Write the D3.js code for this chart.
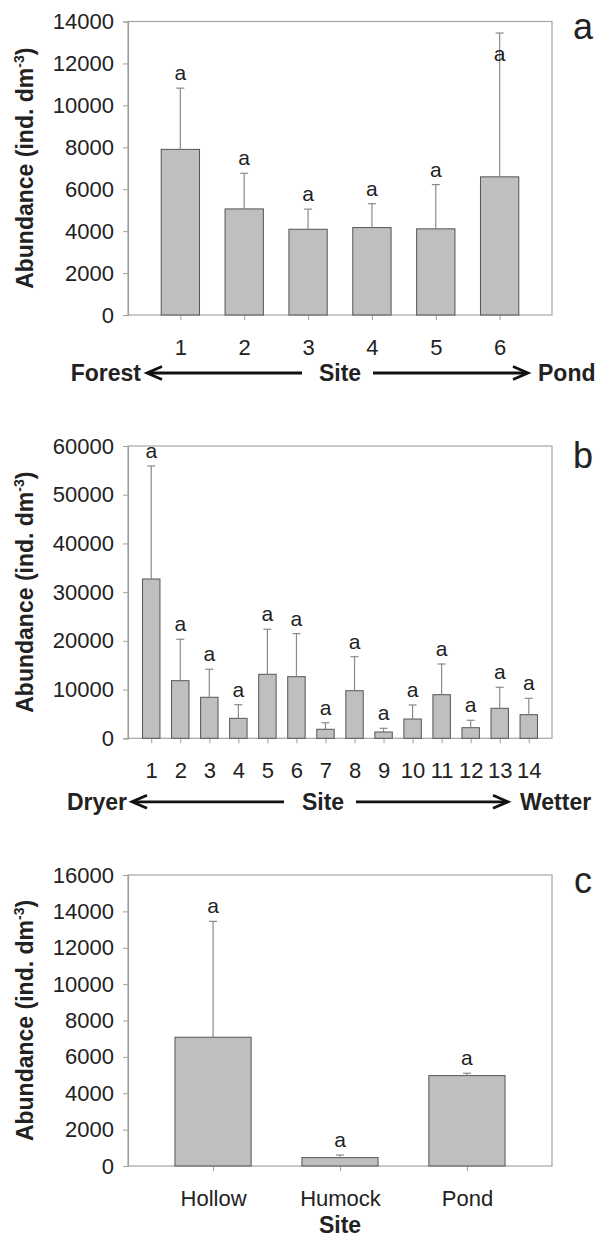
<!DOCTYPE html>
<html>
<head>
<meta charset="utf-8">
<script src="https://cdn.jsdelivr.net/npm/d3@7"></script>
<style>
  body { margin: 0; background: #fff; }
  svg { display: block; }
</style>
</head>
<body>
<div id="chart"></div>
<script>
// panel a: sites along forest -> pond
var sitesA = ['1', '2', '3', '4', '5', '6'];
var meanA = [7900, 5060, 4090, 4170, 4110, 6590];
var errA = [10820, 6760, 5050, 5310, 6220, 13450];
var lettersA = ['a', 'a', 'a', 'a', 'a', 'a'];
var letterAtA = [null, null, null, null, null, 12400];
var ticksA = [0, 2000, 4000, 6000, 8000, 10000, 12000, 14000];

// panel b: sites along dryer -> wetter
var sitesB = ['1', '2', '3', '4', '5', '6', '7', '8', '9', '10', '11', '12', '13', '14'];
var meanB = [32700, 11830, 8420, 4100, 13140, 12650, 1850, 9770, 1290, 3960, 8950, 2180, 6160, 4850];
var errB = [55900, 20330, 14170, 6900, 22380, 21480, 3200, 16750, 2050, 6840, 15250, 3700, 10470, 8210];
var lettersB = ['a', 'a', 'a', 'a', 'a', 'a', 'a', 'a', 'a', 'a', 'a', 'a', 'a', 'a'];
var ticksB = [0, 10000, 20000, 30000, 40000, 50000, 60000];

// panel c: microhabitats
var sitesC = ['Hollow', 'Humock', 'Pond'];
var meanC = [7080, 460, 4970];
var errC = [13450, 605, 5100];
var lettersC = ['a', 'a', 'a'];
var ticksC = [0, 2000, 4000, 6000, 8000, 10000, 12000, 14000, 16000];

var font = 'Liberation Sans, Arial, Helvetica, sans-serif';
var width = 603;
var height = 1237;

var svg = d3.select('#chart')
    .append('svg')
    .attr('width', width)
    .attr('height', height)
    .attr('viewBox', [0, 0, width, height])
    .style('font-family', font);

function arrow(g, x1, x2, yy) {
    // shaft plus open arrow head at x2
    var dir = x2 > x1 ? 1 : -1;
    g.append('line')
        .attr('x1', x1).attr('x2', x2 - dir * 2)
        .attr('y1', yy).attr('y2', yy)
        .attr('stroke', '#111')
        .attr('stroke-width', 2.8);
    g.append('path')
        .attr('d', `M${x2 - dir * 15},${yy - 6.5}L${x2},${yy}L${x2 - dir * 15},${yy + 6.5}`)
        .attr('fill', 'none')
        .attr('stroke', '#111')
        .attr('stroke-width', 2.8)
        .attr('stroke-linejoin', 'miter');
}

function panel(o) {
    var x = d3.scalePoint()
        .domain(o.sites)
        .range([o.left, o.right])
        .padding(o.pad);
    var y = d3.scaleLinear()
        .domain([0, o.max])
        .range([o.bottom, o.top]);
    var bw = x.step() * 0.6;

    var g = svg.append('g');

    // frame
    g.append('rect')
        .attr('x', o.left)
        .attr('y', o.top)
        .attr('width', o.right - o.left)
        .attr('height', o.bottom - o.top)
        .attr('fill', 'none')
        .attr('stroke', '#a6a6a6')
        .attr('stroke-width', 1.2);

    var yAxis = g => g
        .attr('transform', `translate(${o.left},0)`)
        .call(d3.axisLeft(y).tickValues(o.ticks).tickSize(5).tickPadding(9).tickFormat(d3.format('d')))
        .call(g => g.select('.domain').attr('stroke', '#a0a0a0').attr('stroke-width', 1.2))
        .call(g => g.selectAll('.tick line').attr('stroke', '#a0a0a0'))
        .call(g => g.selectAll('text')
            .attr('font-family', font)
            .attr('font-size', 22)
            .attr('fill', '#222'));

    var xAxis = g => g
        .attr('transform', `translate(0,${o.bottom})`)
        .call(d3.axisBottom(x).tickSize(5).tickPadding(19).tickSizeOuter(0))
        .call(g => g.select('.domain').remove())
        .call(g => g.selectAll('.tick line').attr('stroke', '#a0a0a0'))
        .call(g => g.selectAll('text')
            .attr('font-family', font)
            .attr('font-size', 22)
            .attr('fill', '#222'));

    g.append('g').call(xAxis);
    g.append('g').call(yAxis);

    // bars
    g.append('g')
        .selectAll('rect')
        .data(o.sites)
        .join('rect')
        .attr('x', (d) => x(d) - bw / 2)
        .attr('y', (d, i) => y(o.mean[i]))
        .attr('width', bw)
        .attr('height', (d, i) => y(0) - y(o.mean[i]))
        .attr('fill', '#bfbfbf')
        .attr('stroke', '#555')
        .attr('stroke-width', 1);

    // error bars (upper only)
    var eb = g.append('g')
        .attr('stroke', '#8a8a8a')
        .attr('stroke-width', 1.2);
    eb.selectAll('line.v')
        .data(o.sites)
        .join('line')
        .attr('class', 'v')
        .attr('x1', (d) => x(d))
        .attr('x2', (d) => x(d))
        .attr('y1', (d, i) => y(o.mean[i]))
        .attr('y2', (d, i) => y(o.err[i]));
    eb.selectAll('line.c')
        .data(o.sites)
        .join('line')
        .attr('class', 'c')
        .attr('x1', (d) => x(d) - 4)
        .attr('x2', (d) => x(d) + 4)
        .attr('y1', (d, i) => y(o.err[i]))
        .attr('y2', (d, i) => y(o.err[i]));

    // significance letters
    g.append('g')
        .selectAll('text')
        .data(o.sites)
        .join('text')
        .attr('x', (d) => x(d))
        .attr('y', (d, i) => o.letterAt && o.letterAt[i] != null ?
            y(o.letterAt[i]) + 6 : y(o.err[i]) - 8)
        .attr('text-anchor', 'middle')
        .attr('font-size', 21)
        .attr('fill', '#222')
        .text((d, i) => o.letters[i]);

    // panel letter
    g.append('text')
        .attr('x', 583)
        .attr('y', o.top + o.tagDy)
        .attr('text-anchor', 'middle')
        .attr('font-size', 36)
        .attr('fill', '#222')
        .text(o.tag);

    // y title
    var t = g.append('text')
        .attr('transform', `translate(33,${(o.top + o.bottom) / 2}) rotate(-90)`)
        .attr('text-anchor', 'middle')
        .attr('font-size', 23)
        .attr('font-weight', 'bold')
        .attr('fill', '#222');
    t.append('tspan').text('Abundance (ind. dm');
    t.append('tspan').attr('dy', -9).attr('font-size', 14).text('-3');
    t.append('tspan').attr('dy', 9).text(')');

    // x title
    var xt = g.append('g')
        .attr('font-size', 23)
        .attr('font-weight', 'bold')
        .attr('fill', '#222');
    var ty = o.bottom + o.titleDy;
    xt.append('text')
        .attr('x', o.siteX)
        .attr('y', ty + 8)
        .attr('text-anchor', 'middle')
        .text('Site');
    if (o.ends) {
        xt.append('text')
            .attr('x', o.ends[0].x)
            .attr('y', ty + 8)
            .attr('text-anchor', 'end')
            .text(o.ends[0].label);
        xt.append('text')
            .attr('x', o.ends[1].x)
            .attr('y', ty + 8)
            .attr('text-anchor', 'start')
            .text(o.ends[1].label);
        arrow(g, o.arrows[0][0], o.arrows[0][1], ty);
        arrow(g, o.arrows[1][0], o.arrows[1][1], ty);
    }
}

panel({
    sites: sitesA, mean: meanA, err: errA, letters: lettersA, letterAt: letterAtA,
    ticks: ticksA, max: 14000,
    left: 128, right: 552, top: 21.5, bottom: 315, pad: 0.82,
    tag: 'a', tagDy: 17,
    titleDy: 58, siteX: 340,
    ends: [{ label: 'Forest', x: 141 }, { label: 'Pond', x: 538 }],
    arrows: [[302, 147], [373, 528]]
});

panel({
    sites: sitesB, mean: meanB, err: errB, letters: lettersB,
    ticks: ticksB, max: 60000,
    left: 128, right: 552, top: 446, bottom: 738.3, pad: 0.8,
    tag: 'b', tagDy: 22,
    titleDy: 63.5, siteX: 323,
    ends: [{ label: 'Dryer', x: 127 }, { label: 'Wetter', x: 520 }],
    arrows: [[284, 132], [356, 508]]
});

panel({
    sites: sitesC, mean: meanC, err: errC, letters: lettersC,
    ticks: ticksC, max: 16000,
    left: 128, right: 552, top: 875, bottom: 1166, pad: 0.67,
    tag: 'c', tagDy: 18,
    titleDy: 59, siteX: 340
});
</script>
</body>
</html>
